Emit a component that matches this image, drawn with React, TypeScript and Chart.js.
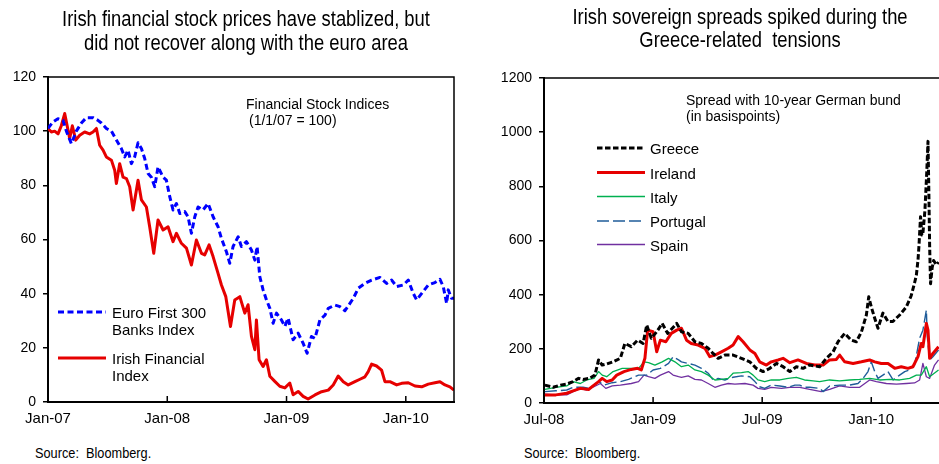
import React, { useEffect, useRef } from 'react';
import { Chart, registerables } from 'chart.js';

Chart.register(...registerables);

// ---------- Left chart: Financial stock indices (months since Jan-2007) ----------
const stockTickValues = [0, 12, 24, 36];
const stockTickLabels = ['Jan-07', 'Jan-08', 'Jan-09', 'Jan-10'];

const euroMonths = [0, 0.5, 1.0, 1.51, 1.85, 2.35, 2.85, 3.36, 3.86, 4.53, 5.03, 5.37, 5.87, 6.38, 6.88, 7.38, 7.72, 8.05, 8.39, 8.72, 9.06, 9.4, 9.73, 10.07, 10.4, 10.74, 11.07, 11.58, 11.91, 12.25, 12.58, 12.92, 13.26, 13.76, 14.09, 14.43, 14.77, 15.1, 15.6, 16.11, 16.61, 17.11, 17.45, 17.95, 18.29, 18.62, 19.13, 19.46, 19.97, 20.47, 20.81, 21.04, 21.31, 21.64, 21.98, 22.32, 22.65, 22.99, 23.49, 23.83, 24.16, 24.66, 25.17, 25.67, 26.07, 26.51, 26.86, 27.36, 27.87, 28.2, 28.87, 29.38, 29.88, 30.38, 30.72, 31.22, 31.89, 32.56, 33.4, 34.07, 34.58, 35.08, 35.75, 36.25, 36.75, 37.09, 37.6, 38.26, 38.93, 39.44, 39.77, 40.11, 40.27, 40.6, 40.85];
const euroValues = [101, 103.4, 104.6, 104, 100, 95.4, 100, 103, 105, 105, 104, 103, 101, 100, 96.7, 93.6, 90.5, 93, 88, 90.5, 95.7, 93.6, 89.9, 84.4, 83, 79.5, 86.8, 83, 81.9, 75.8, 70.9, 73.3, 69.6, 70.3, 68.4, 62.3, 68.4, 72, 70.9, 73.3, 68.4, 64.7, 60.4, 55.5, 51.2, 57.4, 61, 57.4, 59.2, 56.1, 52.4, 57.4, 46.3, 41.4, 37.7, 34.6, 29.1, 32.8, 30.3, 27.9, 31, 23, 25.4, 21.7, 18, 24.2, 23.5, 30.3, 32.1, 34.6, 35.8, 35.2, 33.7, 36.4, 38.3, 42, 43.8, 45, 46, 43.8, 45, 42.6, 43.2, 45, 40.1, 37.7, 40.1, 43.2, 44.1, 45.3, 42.6, 36.4, 41.4, 38.3, 38.3];

const irishMonths = [0, 0.34, 0.67, 1.01, 1.34, 1.68, 1.95, 2.18, 2.45, 2.79, 3.19, 3.69, 4.19, 4.53, 4.87, 5.2, 5.54, 5.87, 6.38, 6.71, 6.88, 7.21, 7.55, 7.89, 8.22, 8.56, 9.06, 9.4, 9.9, 10.23, 10.64, 11.07, 11.58, 12.08, 12.58, 12.92, 13.42, 13.93, 14.43, 14.93, 15.44, 15.77, 16.21, 16.61, 17.11, 17.45, 17.89, 18.36, 18.79, 19.3, 19.8, 20.13, 20.47, 20.81, 20.97, 21.24, 21.64, 21.98, 22.32, 22.82, 23.32, 23.83, 24.33, 24.66, 25.17, 25.67, 26.17, 26.86, 27.53, 28.2, 28.7, 29.2, 29.71, 30.21, 30.88, 31.39, 31.89, 32.22, 32.56, 33.06, 33.56, 33.9, 34.4, 35.08, 35.58, 36.25, 36.92, 37.6, 38.26, 38.93, 39.44, 39.94, 40.44, 40.85];
const irishValues = [101, 99.7, 100, 99, 102, 106.5, 101.6, 97.3, 102, 96.7, 98.5, 99.7, 99, 99.7, 101, 94.8, 93, 90.5, 89.3, 85.6, 80.7, 88, 83, 82.5, 79.5, 70.9, 81.9, 74.6, 72, 64.7, 54.9, 67.2, 63.5, 64.7, 59.2, 62.3, 58.6, 56.8, 50.6, 59.8, 54.9, 54.3, 58, 53.7, 47.5, 43.2, 38.9, 27.9, 37.7, 38.9, 32.8, 35.9, 24.2, 19.3, 30.3, 15.6, 13.1, 15.6, 9.5, 7.6, 5.8, 5.2, 7, 2.7, 3.9, 2.1, 1.1, 2.6, 3.8, 4.4, 6.3, 9.6, 7.5, 6.3, 7.5, 8.4, 9.3, 11.2, 14, 13.3, 11.8, 7.5, 7.5, 6.3, 6.9, 7.1, 5.9, 5.6, 6.6, 7.1, 7.5, 6.3, 5.6, 4.4];

// ---------- Right chart: sovereign spreads (months since Jul-2008) ----------
const spreadTickValues = [0, 6, 12, 18];
const spreadTickLabels = ['Jul-08', 'Jan-09', 'Jul-09', 'Jan-10'];

const greeceMonths = [0.05, 0.5, 0.9, 1.25, 1.6, 1.9, 2.15, 2.5, 2.8, 3.0, 3.2, 3.45, 3.8, 4.2, 4.45, 4.8, 5.15, 5.45, 5.65, 5.9, 6.2, 6.5, 6.8, 7.3, 7.56, 7.93, 8.3, 8.66, 9.03, 9.3, 9.58, 9.95, 10.4, 10.86, 11.32, 11.68, 12.05, 12.42, 12.79, 13.15, 13.52, 13.88, 14.25, 14.6, 15.16, 15.53, 15.9, 16.17, 16.54, 16.9, 17.18, 17.46, 17.73, 17.86, 18.0, 18.19, 18.37, 18.64, 18.92, 19.19, 19.56, 19.93, 20.2, 20.38, 20.48, 20.57, 20.62, 20.71, 20.78, 20.84, 20.95, 21.05, 21.12, 21.17, 21.21, 21.26, 21.35, 21.43, 21.58, 21.7];
const greeceValues = [66, 58, 66, 70, 79, 91, 87, 91, 103, 159, 140, 144, 152, 165, 220, 208, 232, 220, 288, 239, 263, 294, 257, 294, 263, 257, 226, 220, 202, 183, 165, 177, 177, 165, 152, 128, 116, 128, 146, 134, 116, 134, 128, 140, 134, 165, 189, 226, 257, 232, 226, 263, 325, 392, 355, 313, 276, 332, 301, 301, 325, 355, 397, 443, 472, 528, 577, 688, 620, 627, 710, 850, 966, 765, 581, 440, 500, 526, 510, 520];

const irelandMonths = [0.05, 0.65, 1.25, 1.6, 2.0, 2.45, 2.75, 3.0, 3.2, 3.45, 3.75, 4.0, 4.4, 4.8, 5.15, 5.35, 5.55, 5.7, 6.0, 6.2, 6.4, 6.7, 7.0, 7.3, 7.56, 7.84, 8.1, 8.48, 8.85, 9.12, 9.4, 9.76, 10.13, 10.4, 10.68, 10.95, 11.32, 11.6, 11.86, 12.23, 12.5, 12.88, 13.15, 13.52, 13.97, 14.43, 14.89, 15.35, 15.71, 16.08, 16.26, 16.54, 17.0, 17.46, 17.91, 18.19, 18.55, 18.92, 19.29, 19.65, 20.02, 20.29, 20.57, 20.75, 20.84, 21.03, 21.12, 21.21, 21.39, 21.7];
const irelandValues = [30, 30, 36, 45, 54, 50, 66, 79, 91, 79, 85, 103, 116, 124, 128, 122, 165, 269, 263, 189, 232, 226, 257, 269, 276, 232, 220, 214, 202, 171, 177, 189, 202, 214, 245, 226, 196, 183, 152, 140, 152, 159, 165, 149, 159, 146, 140, 140, 159, 161, 177, 152, 146, 152, 159, 152, 146, 146, 128, 134, 128, 134, 171, 220, 208, 294, 269, 165, 183, 208];

const italyMonths = [0.05, 0.65, 1.25, 1.6, 2.0, 2.35, 2.75, 3.0, 3.2, 3.45, 3.8, 4.3, 4.8, 5.2, 5.5, 5.75, 6.1, 6.5, 6.85, 7.2, 7.56, 7.93, 8.3, 8.66, 9.03, 9.4, 9.76, 10.13, 10.4, 10.86, 11.23, 11.5, 11.77, 12.14, 12.5, 12.97, 13.43, 13.88, 14.33, 14.8, 15.16, 15.71, 16.26, 16.81, 17.36, 17.91, 18.46, 19.01, 19.56, 20.11, 20.48, 20.75, 21.03, 21.21, 21.7];
const italyValues = [50, 58, 63, 79, 72, 85, 91, 116, 103, 97, 116, 128, 128, 128, 152, 149, 140, 152, 165, 152, 134, 140, 122, 116, 103, 85, 87, 91, 110, 112, 116, 103, 85, 79, 85, 85, 91, 95, 85, 82, 79, 85, 82, 85, 87, 91, 85, 87, 85, 91, 103, 103, 134, 97, 122];

const portugalMonths = [0.05, 0.65, 1.25, 1.6, 2.15, 2.5, 3.0, 3.3, 3.75, 4.2, 4.65, 5.2, 5.65, 6.0, 6.4, 6.85, 7.1, 7.4, 7.56, 7.93, 8.3, 8.66, 9.03, 9.3, 9.58, 9.95, 10.4, 10.86, 11.32, 11.6, 11.86, 12.14, 12.5, 12.97, 13.43, 13.8, 14.07, 14.33, 14.61, 15.16, 15.35, 15.71, 16.26, 16.81, 17.27, 17.55, 17.82, 18.0, 18.19, 18.37, 18.64, 18.92, 19.2, 19.56, 19.84, 20.11, 20.38, 20.66, 20.84, 21.03, 21.08, 21.21, 21.39, 21.7];
const portugalValues = [42, 45, 48, 58, 58, 54, 79, 66, 75, 79, 87, 103, 103, 122, 128, 146, 171, 159, 152, 146, 140, 128, 110, 85, 91, 85, 95, 100, 97, 79, 60, 54, 66, 63, 58, 66, 66, 58, 58, 54, 42, 63, 66, 66, 72, 91, 116, 152, 116, 91, 103, 116, 85, 103, 116, 122, 140, 239, 269, 343, 245, 159, 171, 196];

const spainMonths = [0.05, 0.65, 1.25, 1.6, 2.0, 2.35, 2.75, 3.1, 3.4, 3.75, 4.2, 4.8, 5.2, 5.5, 5.75, 6.1, 6.4, 6.85, 7.1, 7.4, 7.56, 7.93, 8.3, 8.66, 9.03, 9.4, 9.76, 10.13, 10.5, 11.05, 11.5, 11.77, 12.14, 12.5, 13.06, 13.52, 14.07, 14.61, 15.25, 15.71, 16.26, 16.81, 17.36, 17.91, 18.28, 18.83, 19.38, 19.93, 20.38, 20.66, 20.84, 21.03, 21.21, 21.48, 21.7];
const spainValues = [33, 30, 30, 42, 54, 48, 60, 72, 54, 63, 66, 72, 79, 103, 97, 91, 103, 116, 103, 97, 95, 100, 87, 85, 72, 58, 66, 72, 70, 72, 66, 54, 50, 58, 54, 58, 58, 50, 42, 50, 63, 58, 58, 85, 79, 72, 70, 72, 74, 85, 146, 97, 91, 140, 159];

const FONT = "'Liberation Sans', Arial, Helvetica, sans-serif";

const toPoints = (xs: number[], ys: number[]) => xs.map((x, i) => ({ x, y: ys[i] }));

const framePlugin = {
  id: 'frame',
  afterDraw(chart: any, _args: any, opts: any) {
    const { ctx, chartArea: a, scales } = chart;
    ctx.save();
    ctx.strokeStyle = '#000';
    ctx.lineWidth = 1.5;
    ctx.beginPath();
    ctx.moveTo(a.left, a.top);
    ctx.lineTo(a.right, a.top);
    ctx.lineTo(a.right, a.bottom);
    ctx.stroke();
    ctx.beginPath();
    for (const v of opts.ticks || []) {
      const x = scales.x.getPixelForValue(v);
      ctx.moveTo(x, a.bottom);
      ctx.lineTo(x, a.bottom - 6);
    }
    ctx.stroke();
    for (const s of opts.legend || []) {
      const ds = chart.data.datasets[s.index];
      ctx.strokeStyle = ds.borderColor;
      ctx.lineWidth = ds.borderWidth;
      ctx.setLineDash(ds.borderDash || []);
      ctx.beginPath();
      ctx.moveTo(s.x1, s.y);
      ctx.lineTo(s.x2, s.y);
      ctx.stroke();
    }
    ctx.restore();
  },
};

function makeOptions(cfg: {
  xMax: number; yMax: number; yStep: number; tickValues: number[]; tickLabels: string[];
  yWidth: number; xHeight: number; padding: any; legend: any[];
}) {
  return {
    responsive: false,
    animation: false as const,
    layout: { padding: cfg.padding },
    plugins: {
      legend: { display: false },
      tooltip: { enabled: false },
      frame: { ticks: cfg.tickValues, legend: cfg.legend },
    },
    elements: { point: { radius: 0 }, line: { tension: 0, borderJoinStyle: 'round' as const } },
    scales: {
      x: {
        type: 'linear' as const,
        min: 0,
        max: cfg.xMax,
        afterBuildTicks: (axis: any) => {
          axis.ticks = cfg.tickValues.map((v) => ({ value: v }));
        },
        afterFit: (scale: any) => { scale.height = cfg.xHeight; },
        ticks: {
          autoSkip: false,
          maxRotation: 0,
          padding: 8,
          color: '#000',
          font: { family: FONT, size: 15 },
          callback: (v: number) => {
            const i = cfg.tickValues.indexOf(v);
            return i >= 0 ? cfg.tickLabels[i] : '';
          },
        },
        grid: { display: false, drawTicks: false },
        border: { display: true, color: '#000', width: 2 },
      },
      y: {
        min: 0,
        max: cfg.yMax,
        afterFit: (scale: any) => { scale.width = cfg.yWidth; },
        ticks: {
          stepSize: cfg.yStep, padding: 7, color: '#000', font: { family: FONT, size: 14 },
          callback: (v: number) => String(v),
        },
        grid: { display: true, drawOnChartArea: false, drawTicks: true, tickLength: 5, color: '#000', lineWidth: 1.5 },
        border: { display: true, color: '#000', width: 2 },
      },
    },
  };
}

function LeftChart() {
  const ref = useRef<HTMLCanvasElement>(null);
  useEffect(() => {
    if (!ref.current) return;
    const chart = new Chart(ref.current, {
      type: 'line',
      data: {
        datasets: [
          { label: 'Euro First 300 Banks Index', data: toPoints(euroMonths, euroValues), borderColor: '#0000FF', borderWidth: 3, borderDash: [6, 3.5] },
          { label: 'Irish Financial Index', data: toPoints(irishMonths, irishValues), borderColor: '#E60000', borderWidth: 3 },
        ],
      },
      options: makeOptions({
        xMax: 40.85, yMax: 120, yStep: 20, tickValues: stockTickValues, tickLabels: stockTickLabels,
        yWidth: 48, xHeight: 38, padding: { top: 77, right: 16, bottom: 0, left: 0 },
        legend: [
          { index: 0, x1: 58, x2: 106, y: 312 },
          { index: 1, x1: 58, x2: 106, y: 358 },
        ],
      }) as any,
      plugins: [framePlugin],
    });
    return () => chart.destroy();
  }, []);
  return <canvas ref={ref} width={470} height={440} style={{ position: 'absolute', left: 0, top: 0, width: 470, height: 440 }} />;
}

function RightChart() {
  const ref = useRef<HTMLCanvasElement>(null);
  useEffect(() => {
    if (!ref.current) return;
    const chart = new Chart(ref.current, {
      type: 'line',
      data: {
        datasets: [
          { label: 'Greece', data: toPoints(greeceMonths, greeceValues), borderColor: '#000000', borderWidth: 3, borderDash: [5.5, 2.5] },
          { label: 'Ireland', data: toPoints(irelandMonths, irelandValues), borderColor: '#E60000', borderWidth: 3 },
          { label: 'Italy', data: toPoints(italyMonths, italyValues), borderColor: '#00B050', borderWidth: 1.3 },
          { label: 'Portugal', data: toPoints(portugalMonths, portugalValues), borderColor: '#1F5C99', borderWidth: 1.4, borderDash: [12, 4] },
          { label: 'Spain', data: toPoints(spainMonths, spainValues), borderColor: '#7030A0', borderWidth: 1.3 },
        ],
      },
      options: makeOptions({
        xMax: 22, yMax: 1200, yStep: 200, tickValues: spreadTickValues, tickLabels: spreadTickLabels,
        yWidth: 74, xHeight: 37, padding: { top: 78, right: 6, bottom: 0, left: 0 },
        legend: [
          { index: 0, x1: 127, x2: 175, y: 148 },
          { index: 1, x1: 127, x2: 175, y: 172.5 },
          { index: 2, x1: 127, x2: 175, y: 196.5 },
          { index: 3, x1: 127, x2: 175, y: 221 },
          { index: 4, x1: 127, x2: 175, y: 244.5 },
        ],
      }) as any,
      plugins: [framePlugin],
    });
    return () => chart.destroy();
  }, []);
  return <canvas ref={ref} width={480} height={440} style={{ position: 'absolute', left: 470, top: 0, width: 480, height: 440 }} />;
}

function T(props: { x: number; y: number; size: number; center?: boolean; sx?: number; children: React.ReactNode }) {
  const sx = props.sx ?? 1;
  return (
    <div
      style={{
        position: 'absolute', left: props.x, top: props.y, fontSize: props.size, lineHeight: 1,
        fontFamily: FONT, color: '#000', whiteSpace: 'pre',
        transformOrigin: props.center ? '50% 50%' : '0 50%',
        transform: (props.center ? 'translate(-50%, -50%)' : 'translateY(-50%)') + ` scaleX(${sx})`,
      }}
    >
      {props.children}
    </div>
  );
}

export default function App() {
  return (
    <div style={{ position: 'fixed', left: 0, top: 0, width: 939, height: 464, overflow: 'hidden', background: '#fff' }}>
      <LeftChart />
      <RightChart />
      <T x={246} y={20} size={21.5} sx={0.855} center>Irish financial stock prices have stablized, but</T>
      <T x={246} y={44} size={21.5} sx={0.855} center>did not recover along with the euro area</T>
      <T x={740} y={18} size={21.5} sx={0.855} center>Irish sovereign spreads spiked during the</T>
      <T x={740} y={41} size={21.5} sx={0.855} center>Greece-related  tensions</T>

      <T x={246} y={104} size={14}>Financial Stock Indices</T>
      <T x={249} y={120} size={14}>(1/1/07 = 100)</T>
      <T x={112} y={312} size={15}>Euro First 300</T>
      <T x={112} y={329} size={15}>Banks Index</T>
      <T x={112} y={358} size={15}>Irish Financial</T>
      <T x={112} y={375} size={15}>Index</T>

      <T x={686} y={100} size={14}>Spread with 10-year German bund</T>
      <T x={686} y={116} size={14}>(in basispoints)</T>
      <T x={650} y={148} size={15}>Greece</T>
      <T x={650} y={172.5} size={15}>Ireland</T>
      <T x={650} y={196.5} size={15}>Italy</T>
      <T x={650} y={221} size={15}>Portugal</T>
      <T x={650} y={244.5} size={15}>Spain</T>

      <T x={35} y={452} size={15} sx={0.85}>Source:  Bloomberg.</T>
      <T x={524} y={452} size={15} sx={0.85}>Source:  Bloomberg.</T>
    </div>
  );
}
